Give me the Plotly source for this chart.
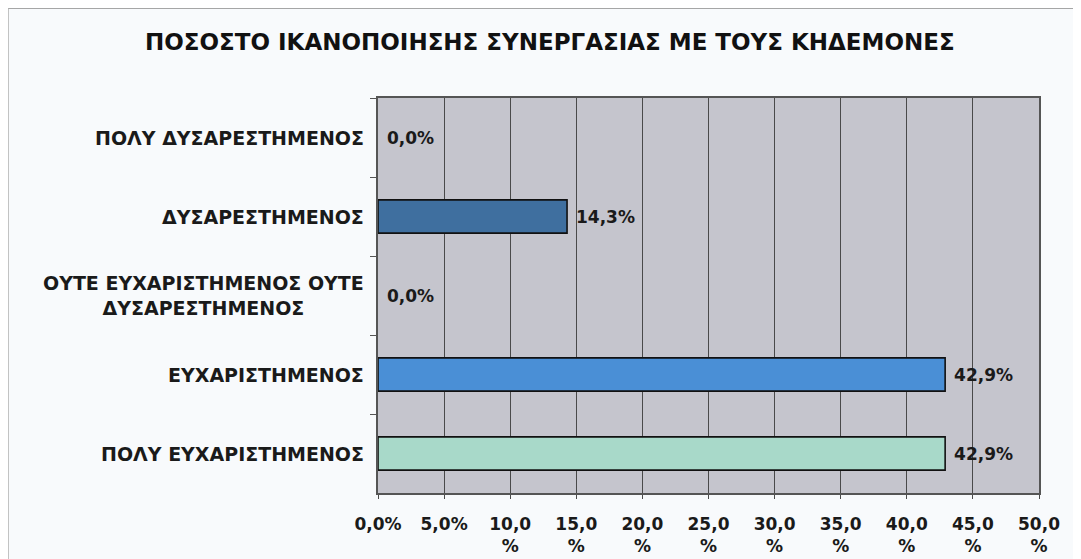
import plotly.graph_objects as go

# categories, top to bottom as in the chart
categories = [
    "ΠΟΛΥ ΔΥΣΑΡΕΣΤΗΜΕΝΟΣ",
    "ΔΥΣΑΡΕΣΤΗΜΕΝΟΣ",
    "ΟΥΤΕ ΕΥΧΑΡΙΣΤΗΜΕΝΟΣ ΟΥΤΕ<br>ΔΥΣΑΡΕΣΤΗΜΕΝΟΣ",
    "ΕΥΧΑΡΙΣΤΗΜΕΝΟΣ",
    "ΠΟΛΥ ΕΥΧΑΡΙΣΤΗΜΕΝΟΣ",
]
values = [0.0, 14.3, 0.0, 42.9, 42.9]
bar_colors = ["#3f6f9f", "#3f6f9f", "#4a8fd6", "#4a8fd6", "#a8d9c9"]

x_tickvals = [0, 5, 10, 15, 20, 25, 30, 35, 40, 45, 50]
x_ticktext = ["0,0%", "5,0%", "10,0<br>%", "15,0<br>%", "20,0<br>%", "25,0<br>%",
              "30,0<br>%", "35,0<br>%", "40,0<br>%", "45,0<br>%", "50,0<br>%"]

TITLE = "ΠΟΣΟΣΤΟ ΙΚΑΝΟΠΟΙΗΣΗΣ ΣΥΝΕΡΓΑΣΙΑΣ ΜΕ ΤΟΥΣ ΚΗΔΕΜΟΝΕΣ"

TICK_FONT = dict(family="DejaVu Sans", size=17, color="#1a1a1a", weight="bold")
CAT_FONT = dict(family="DejaVu Sans", size=19, color="#1a1a1a", weight="bold")

# the page body has an 8px margin, so the figure is sized to fit inside it
W, H = 1073, 551
ML, MR, MT, MB = 370, 42, 90, 66
pw, ph = W - ML - MR, H - MT - MB

# leading space gives the wider gap seen between bar end and label
labels = [" " + f"{v:.1f}%".replace(".", ",") for v in values]

fig = go.Figure()
fig.add_trace(
    go.Bar(
        x=values,
        y=categories,
        orientation="h",
        width=0.42,
        marker=dict(
            color=bar_colors,
            line=dict(color="#111111", width=[0 if v == 0 else 1.6 for v in values]),
        ),
        text=labels,
        textposition="outside",
        textfont=TICK_FONT,
        cliponaxis=False,
        showlegend=False,
    )
)

# category labels (centred multi-line like the original)
for cat in categories:
    fig.add_annotation(
        x=0, xref="paper", y=cat, yref="y",
        text=cat, showarrow=False,
        xanchor="right", xshift=-12, align="center",
        font=CAT_FONT,
    )

# top and left edges of the chart frame
x_left = -ML / pw
x_right = 1 + MR / pw
y_top = 1 + MT / ph
y_bottom = -MB / ph
fig.add_shape(type="line", xref="paper", yref="paper",
              x0=x_left, x1=x_right, y0=y_top, y1=y_top,
              line=dict(color="#8a8a8a", width=1.5), layer="below")
fig.add_shape(type="line", xref="paper", yref="paper",
              x0=x_left, x1=x_left, y0=y_bottom, y1=y_top,
              line=dict(color="#b0b0b0", width=1.5), layer="below")

fig.update_xaxes(
    range=[0, 50],
    tickvals=x_tickvals,
    ticktext=x_ticktext,
    tickfont=TICK_FONT,
    showgrid=True,
    gridcolor="#4a4a4a",
    gridwidth=1,
    ticks="outside",
    ticklen=4,
    tickcolor="#4a4a4a",
    ticklabelstandoff=11,
    automargin=False,
    showline=True,
    linecolor="#555555",
    linewidth=1.5,
    mirror=True,
    zeroline=False,
)
fig.update_yaxes(
    autorange="reversed",
    showticklabels=False,
    ticks="outside",
    tickson="boundaries",
    ticklen=6,
    tickcolor="#555555",
    showline=True,
    linecolor="#555555",
    linewidth=1.5,
    mirror=True,
    showgrid=False,
)

fig.update_layout(
    width=W,
    height=H,
    title=dict(
        text=TITLE,
        x=0.505, xanchor="center", y=1 - 33.5 / H, yanchor="middle",
        font=dict(family="DejaVu Sans", size=23, color="#111111", weight="bold"),
    ),
    margin=dict(l=ML, r=MR, t=MT, b=MB),
    plot_bgcolor="#c5c5cd",
    paper_bgcolor="#f8fafc",
    bargap=0.58,
)

fig.write_html("out.html")
